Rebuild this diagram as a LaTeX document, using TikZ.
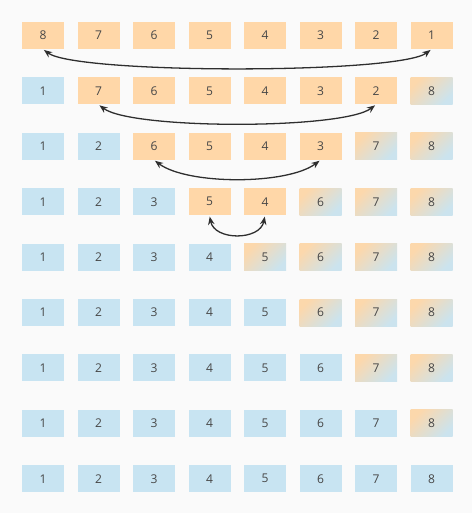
\documentclass[tikz,border=0pt]{standalone}
\usepackage{fontspec}
\setmainfont{Open Sans}
\usepackage{tikz}
\usetikzlibrary{arrows,arrows.meta,shapes}
\definecolor{peach}{HTML}{FFD7A8}
\definecolor{skyblue}{HTML}{C8E4F2}
\definecolor{txtgray}{HTML}{474747}
\definecolor{arrowgray}{HTML}{2E2E2E}
\definecolor{bggray}{HTML}{FAFAFA}
\begin{document}
\begin{tikzpicture}[
cell/.style={rectangle,draw=none,minimum width=1.26cm,minimum height=0.81cm,inner sep=0pt,text=txtgray,font=\fontsize{10.3}{12}\selectfont},
orng/.style={cell,fill=peach},
blu/.style={cell,fill=skyblue},
mixd/.style={cell,top color=peach!95!skyblue,bottom color=skyblue!95!peach,shading angle=45},
swp/.style={{Stealth[length=7pt,width=5.5pt]}-{Stealth[length=7pt,width=5.5pt]},line width=1.1pt,draw=arrowgray,shorten <=1pt,shorten >=1pt}]
\useasboundingbox (0,0) rectangle (14.22,-15.45);
\fill[bggray] (0,0) rectangle (14.16,-15.39);
\begin{scope}[shift={(0.0,-1.065)}]
\node[orng] (r1c1) at (1.290,0) {8};
\node[orng] (r1c2) at (2.955,0) {7};
\node[orng] (r1c3) at (4.620,0) {6};
\node[orng] (r1c4) at (6.285,0) {5};
\node[orng] (r1c5) at (7.950,0) {4};
\node[orng] (r1c6) at (9.615,0) {3};
\node[orng] (r1c7) at (11.280,0) {2};
\node[orng] (r1c8) at (12.945,0) {1};
\end{scope}
\begin{scope}[shift={(0.0,-2.727)}]
\node[blu] (r2c1) at (1.290,0) {1};
\node[orng] (r2c2) at (2.955,0) {7};
\node[orng] (r2c3) at (4.620,0) {6};
\node[orng] (r2c4) at (6.285,0) {5};
\node[orng] (r2c5) at (7.950,0) {4};
\node[orng] (r2c6) at (9.615,0) {3};
\node[orng] (r2c7) at (11.280,0) {2};
\node[mixd] (r2c8) at (12.945,0) {8};
\end{scope}
\begin{scope}[shift={(0.0,-4.389)}]
\node[blu] (r3c1) at (1.290,0) {1};
\node[blu] (r3c2) at (2.955,0) {2};
\node[orng] (r3c3) at (4.620,0) {6};
\node[orng] (r3c4) at (6.285,0) {5};
\node[orng] (r3c5) at (7.950,0) {4};
\node[orng] (r3c6) at (9.615,0) {3};
\node[mixd] (r3c7) at (11.280,0) {7};
\node[mixd] (r3c8) at (12.945,0) {8};
\end{scope}
\begin{scope}[shift={(0.0,-6.051)}]
\node[blu] (r4c1) at (1.290,0) {1};
\node[blu] (r4c2) at (2.955,0) {2};
\node[blu] (r4c3) at (4.620,0) {3};
\node[orng] (r4c4) at (6.285,0) {5};
\node[orng] (r4c5) at (7.950,0) {4};
\node[mixd] (r4c6) at (9.615,0) {6};
\node[mixd] (r4c7) at (11.280,0) {7};
\node[mixd] (r4c8) at (12.945,0) {8};
\end{scope}
\begin{scope}[shift={(0.0,-7.713)}]
\node[blu] (r5c1) at (1.290,0) {1};
\node[blu] (r5c2) at (2.955,0) {2};
\node[blu] (r5c3) at (4.620,0) {3};
\node[blu] (r5c4) at (6.285,0) {4};
\node[mixd] (r5c5) at (7.950,0) {5};
\node[mixd] (r5c6) at (9.615,0) {6};
\node[mixd] (r5c7) at (11.280,0) {7};
\node[mixd] (r5c8) at (12.945,0) {8};
\end{scope}
\begin{scope}[shift={(0.0,-9.375)}]
\node[blu] (r6c1) at (1.290,0) {1};
\node[blu] (r6c2) at (2.955,0) {2};
\node[blu] (r6c3) at (4.620,0) {3};
\node[blu] (r6c4) at (6.285,0) {4};
\node[blu] (r6c5) at (7.950,0) {5};
\node[mixd] (r6c6) at (9.615,0) {6};
\node[mixd] (r6c7) at (11.280,0) {7};
\node[mixd] (r6c8) at (12.945,0) {8};
\end{scope}
\begin{scope}[shift={(0.0,-11.037)}]
\node[blu] (r7c1) at (1.290,0) {1};
\node[blu] (r7c2) at (2.955,0) {2};
\node[blu] (r7c3) at (4.620,0) {3};
\node[blu] (r7c4) at (6.285,0) {4};
\node[blu] (r7c5) at (7.950,0) {5};
\node[blu] (r7c6) at (9.615,0) {6};
\node[mixd] (r7c7) at (11.280,0) {7};
\node[mixd] (r7c8) at (12.945,0) {8};
\end{scope}
\begin{scope}[shift={(0.0,-12.699)}]
\node[blu] (r8c1) at (1.290,0) {1};
\node[blu] (r8c2) at (2.955,0) {2};
\node[blu] (r8c3) at (4.620,0) {3};
\node[blu] (r8c4) at (6.285,0) {4};
\node[blu] (r8c5) at (7.950,0) {5};
\node[blu] (r8c6) at (9.615,0) {6};
\node[blu] (r8c7) at (11.280,0) {7};
\node[mixd] (r8c8) at (12.945,0) {8};
\end{scope}
\begin{scope}[shift={(0.0,-14.361)}]
\node[blu] (r9c1) at (1.290,0) {1};
\node[blu] (r9c2) at (2.955,0) {2};
\node[blu] (r9c3) at (4.620,0) {3};
\node[blu] (r9c4) at (6.285,0) {4};
\node[blu] (r9c5) at (7.950,0) {5};
\node[blu] (r9c6) at (9.615,0) {6};
\node[blu] (r9c7) at (11.280,0) {7};
\node[blu] (r9c8) at (12.945,0) {8};
\end{scope}
\draw[swp] (r1c1.south) .. controls +(1.0,-0.75) and +(-1.0,-0.75) .. (r1c8.south);
\draw[swp] (r2c2.south) .. controls +(1.0,-0.75) and +(-1.0,-0.75) .. (r2c7.south);
\draw[swp] (r3c3.south) .. controls +(1.0,-0.75) and +(-1.0,-0.75) .. (r3c6.south);
\draw[swp] (r4c4.south) .. controls +(0.15,-0.76) and +(-0.15,-0.76) .. (r4c5.south);
\end{tikzpicture}
\end{document}
